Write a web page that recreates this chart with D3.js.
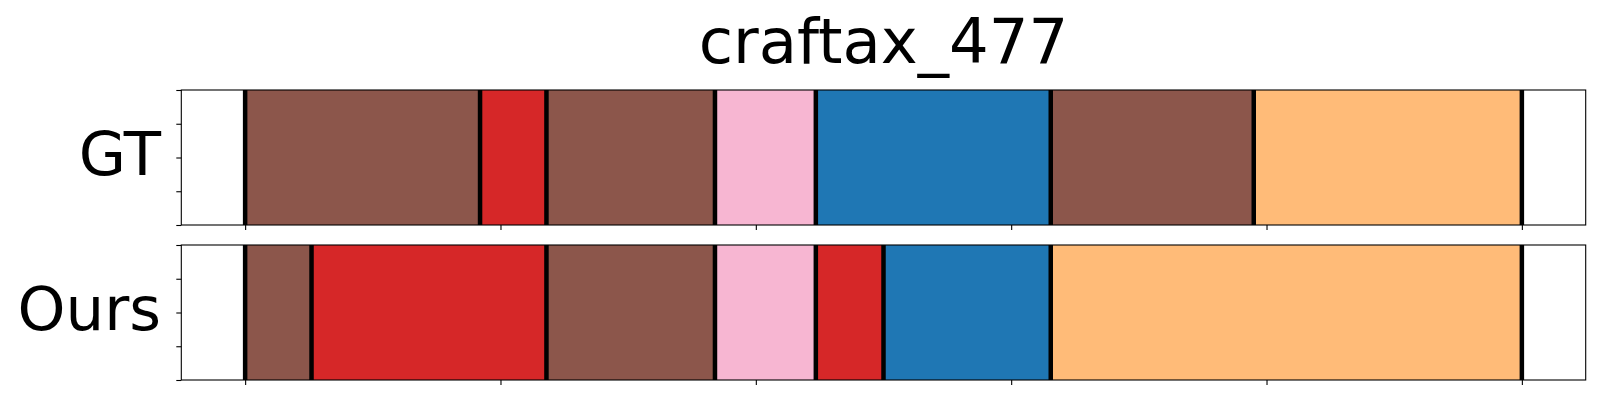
<!DOCTYPE html>
<html>
<head>
<meta charset="utf-8">
<script src="https://cdn.jsdelivr.net/npm/d3@7"></script>
<style>
  html, body { margin: 0; padding: 0; background: #fff; }
  svg { display: block; }
  text { font-family: "DejaVu Sans", sans-serif; }
</style>
</head>
<body>
<svg id="chart" width="1600" height="400"></svg>
<script>
// ---- data ----
const title = "craftax_477";
const rowLabels = ["GT", "Ours"];
const categories = ["brown", "red", "pink", "blue", "orange"];
const categoryColors = ["#8c564b", "#d62728", "#f7b6d2", "#1f77b4", "#ffbb78"];
// segment boundaries (frames) and labels for each row
const gtBounds = [0, 92, 118, 184, 223.5, 315.5, 395, 500];
const gtLabels = ["brown", "red", "brown", "pink", "blue", "brown", "orange"];
const oursBounds = [0, 26, 118, 184, 223.5, 250, 315.5, 500];
const oursLabels = ["brown", "red", "brown", "pink", "red", "blue", "orange"];
const xTicks = [0, 100, 200, 300, 400, 500];
const yTicks = [0, 0.25, 0.5, 0.75, 1];
const xDomain = [-25, 525];

// ---- drawing ----
const svg = d3.select("#chart");
const color = d3.scaleOrdinal().domain(categories).range(categoryColors);
const x = d3.scaleLinear().domain(xDomain).range([181.3, 1585.7]);

const rows = [
  { label: rowLabels[0], bounds: gtBounds, labels: gtLabels, top: 90, bottom: 225 },
  { label: rowLabels[1], bounds: oursBounds, labels: oursLabels, top: 245, bottom: 380 }
];

svg.append("text")
  .attr("x", (x.range()[0] + x.range()[1]) / 2)
  .attr("y", 63)
  .attr("text-anchor", "middle")
  .attr("font-size", 62.5)
  .attr("fill", "#000")
  .text(title);

rows.forEach(r => {
  const y = d3.scaleLinear().domain([0, 1]).range([r.bottom, r.top]);
  const g = svg.append("g");
  const segs = r.labels.map((lab, i) => ({ lab, x0: r.bounds[i], x1: r.bounds[i + 1] }));

  g.selectAll("rect.seg").data(segs).join("rect")
    .attr("class", "seg")
    .attr("x", d => x(d.x0))
    .attr("width", d => x(d.x1) - x(d.x0))
    .attr("y", y(1))
    .attr("height", y(0) - y(1))
    .attr("fill", d => color(d.lab));

  g.selectAll("line.bound").data(r.bounds).join("line")
    .attr("class", "bound")
    .attr("x1", d => x(d)).attr("x2", d => x(d))
    .attr("y1", y(1)).attr("y2", y(0))
    .attr("stroke", "#000")
    .attr("stroke-width", 4.5);

  // axes
  const xa = g.append("g")
    .attr("transform", `translate(0,${r.bottom})`)
    .call(d3.axisBottom(x).tickValues(xTicks).tickFormat("").tickSize(5).tickSizeOuter(0));
  const ya = g.append("g")
    .attr("transform", `translate(${x.range()[0]},0)`)
    .call(d3.axisLeft(y).tickValues(yTicks).tickFormat("").tickSize(5).tickSizeOuter(0));
  [xa, ya].forEach(a => {
    a.select(".domain").remove();
    a.selectAll(".tick line").attr("stroke", "#000").attr("stroke-width", 1.1);
  });

  // frame (spines)
  g.append("rect")
    .attr("x", x.range()[0]).attr("y", y(1))
    .attr("width", x.range()[1] - x.range()[0])
    .attr("height", y(0) - y(1))
    .attr("fill", "none")
    .attr("stroke", "#000")
    .attr("stroke-width", 1.1);

  svg.append("text")
    .attr("x", 161)
    .attr("y", (r.top + r.bottom) / 2 + 17)
    .attr("text-anchor", "end")
    .attr("font-size", 61)
    .attr("fill", "#000")
    .text(r.label);
});
</script>
</body>
</html>
